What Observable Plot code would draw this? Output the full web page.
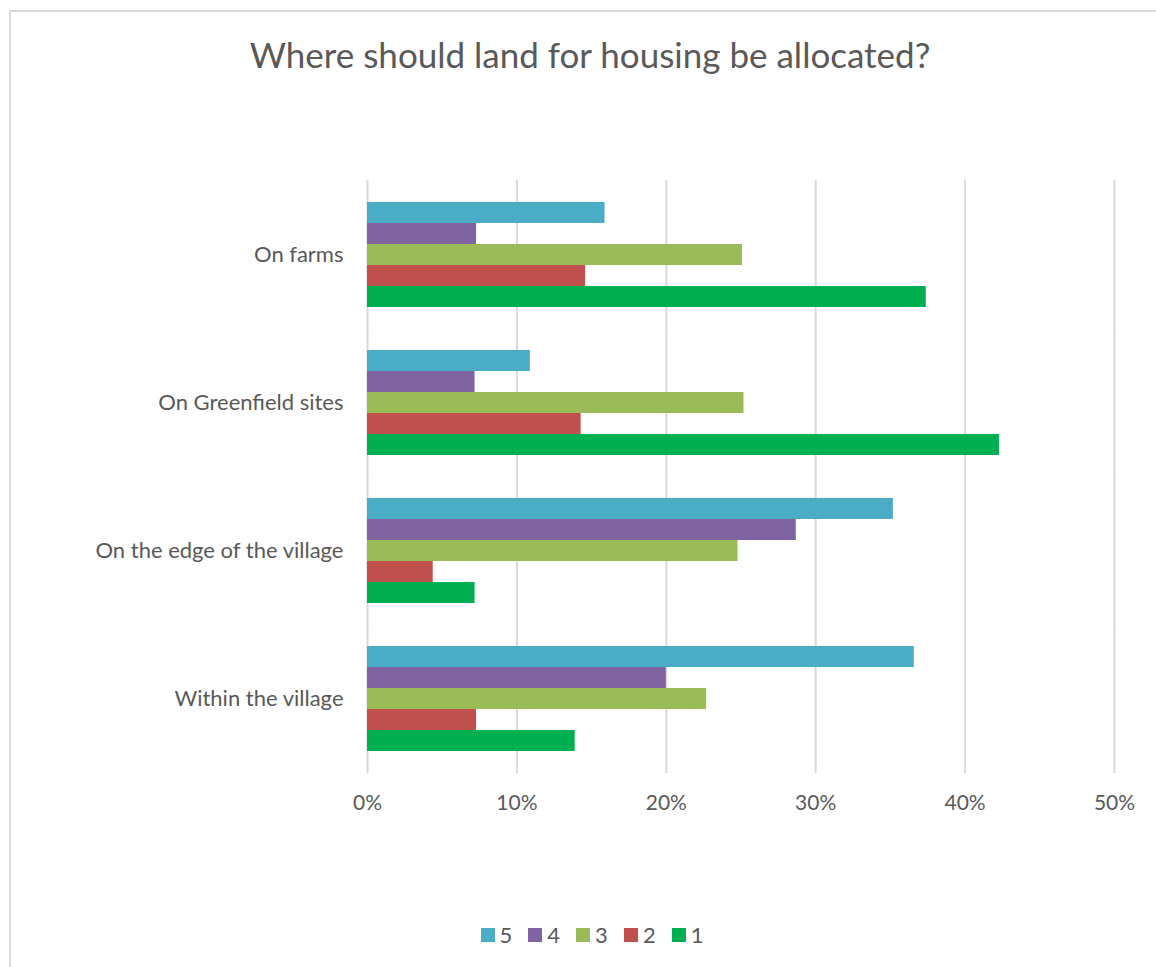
<!DOCTYPE html>
<html>
<head>
<meta charset="utf-8">
<script src="https://cdn.jsdelivr.net/npm/d3@7"></script>
<script src="https://cdn.jsdelivr.net/npm/@observablehq/plot@0.6"></script>
<style>
  html, body { margin: 0; padding: 0; background: #fff; width: 1156px; height: 967px; overflow: hidden; }
  body { position: relative; font-family: Lato, "Open Sans", sans-serif; color: #595959; }
  #frame { position: absolute; left: 9px; top: 10px; width: 1180px; height: 1000px; border: 2px solid #d9d9d9; box-sizing: border-box; }
  #title { position: absolute; left: 0; top: 33px; width: 1180px; text-align: center; font-size: 35px; line-height: 42px; color: #595959; }
  #chart { position: absolute; left: 0; top: 150px; }
  #legend { position: absolute; left: 0; top: 924px; width: 1184px; display: flex; justify-content: center; font-size: 22px; line-height: 22px; color: #595959; }
  .item { display: flex; align-items: center; margin: 0 8px; }
  .sw { width: 14px; height: 14px; margin-right: 5px; }
</style>
</head>
<body>
<div id="frame"></div>
<div id="title">Where should land for housing be allocated?</div>
<div id="chart"></div>
<div id="legend"></div>
<script>
const categories = ["On farms", "On Greenfield sites", "On the edge of the village", "Within the village"];
const series = ["5", "4", "3", "2", "1"];
const seriesColors = ["#4BACC6", "#8064A2", "#9BBB59", "#C0504D", "#00B050"];
const values5 = [15.9, 10.9, 35.2, 36.6];
const values4 = [7.3, 7.2, 28.7, 20.0];
const values3 = [25.1, 25.2, 24.8, 22.7];
const values2 = [14.6, 14.3, 4.4, 7.3];
const values1 = [37.4, 42.3, 7.2, 13.9];
const xTicks = [0, 10, 20, 30, 40, 50];

const valuesBySeries = {"5": values5, "4": values4, "3": values3, "2": values2, "1": values1};
const data = [];
categories.forEach((c, i) => {
  series.forEach(s => data.push({category: c, series: s, value: valuesBySeries[s][i]}));
});

const chart = Plot.plot({
  width: 1156,
  height: 680,
  marginTop: 30,
  marginBottom: 58,
  marginLeft: 367,
  marginRight: 42,
  style: {fontFamily: "Lato, 'Open Sans', sans-serif", fontSize: "22px", color: "#595959", background: "transparent"},
  x: {domain: [0, 50], label: null},
  y: {domain: series, axis: null, padding: 0},
  fy: {domain: categories, paddingInner: 0.264, paddingOuter: 0.132, label: null},
  color: {domain: series, range: seriesColors},
  marks: [
    Plot.ruleX(xTicks, {x: d => d, stroke: "#d9d9d9", strokeWidth: 2, insetTop: -20, insetBottom: -20}),
    Plot.barX(data, {x: "value", y: "series", fy: "category", fill: "series"}),
    Plot.axisFy({anchor: "left", tickSize: 0, tickPadding: 24, label: null, fontSize: 22}),
    Plot.axisX({ticks: xTicks, tickFormat: d => d + "%", tickSize: 0, tickPadding: 42, label: null, fontSize: 21})
  ]
});
document.getElementById("chart").appendChild(chart);

const legend = document.getElementById("legend");
series.forEach((s, i) => {
  const item = document.createElement("div");
  item.className = "item";
  const sw = document.createElement("div");
  sw.className = "sw";
  sw.style.background = seriesColors[i];
  const t = document.createElement("span");
  t.textContent = s;
  item.appendChild(sw);
  item.appendChild(t);
  legend.appendChild(item);
});
</script>
</body>
</html>
